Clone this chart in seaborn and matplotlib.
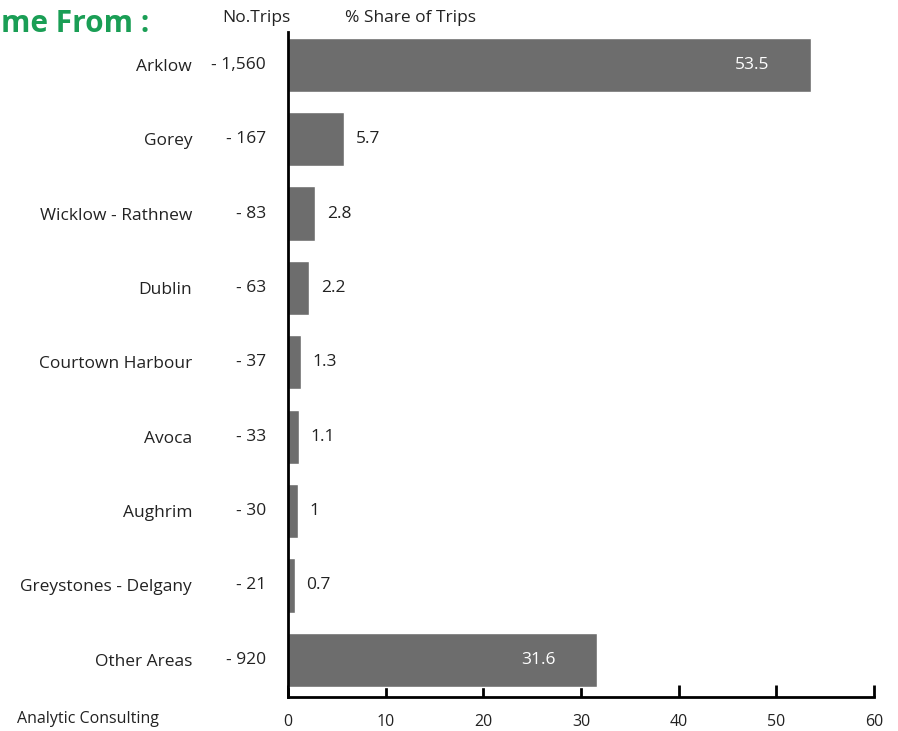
import matplotlib.pyplot as plt
import matplotlib.transforms as mtransforms
import seaborn as sns
import pandas as pd

areas = ['Arklow', 'Gorey', 'Wicklow - Rathnew', 'Dublin', 'Courtown Harbour',
         'Avoca', 'Aughrim', 'Greystones - Delgany', 'Other Areas']
trips = ['1,560', '167', '83', '63', '37', '33', '30', '21', '920']
share = [53.5, 5.7, 2.8, 2.2, 1.3, 1.1, 1.0, 0.7, 31.6]
share_labels = ['53.5', '5.7', '2.8', '2.2', '1.3', '1.1', '1', '0.7', '31.6']

df = pd.DataFrame({'area': areas, 'share': share})

sns.set_style('white')
plt.rcParams['font.family'] = ['Open Sans', 'DejaVu Sans']

fig = plt.figure(figsize=(8.98, 7.31), dpi=100)
ax = fig.add_axes([0.3207, 0.0465, 0.6526, 0.9097])

sns.barplot(data=df, x='share', y='area', orient='h', color='#6d6d6d',
            saturation=1, width=0.73, ax=ax)

ax.set_xlim(0, 60)
ax.set_ylim(8.5, -0.44)
ax.set_xticks([0, 10, 20, 30, 40, 50, 60])
ax.set_xlabel('')
ax.set_ylabel('')
ax.tick_params(axis='x', bottom=True, direction='in', length=9, width=2,
               colors='black', pad=12, labelsize=11.5, labelcolor='#222222')
ax.tick_params(axis='y', left=False, length=0, pad=69, labelsize=12.5)
for lbl in ax.get_yticklabels():
    lbl.set_color('#222222')

for side in ['top', 'right']:
    ax.spines[side].set_visible(False)
for side in ['left', 'bottom']:
    ax.spines[side].set_color('black')
    ax.spines[side].set_linewidth(2)

# value labels: white inside the long bars, dark just past the short ones
for i, (v, s) in enumerate(zip(share, share_labels)):
    if v > 20:
        ax.text(v - 6, i, s, color='white', ha='center', va='center', fontsize=12.5)
    else:
        ax.text(v + 1.2, i, s, color='#222222', ha='left', va='center', fontsize=12.5)

# trip counts column between the names and the axis
trans = mtransforms.blended_transform_factory(fig.transFigure, ax.transData)
for i, t in enumerate(trips):
    ax.text(0.2963, i, '- ' + t, transform=trans, ha='right', va='center',
            fontsize=12.5, color='#222222')

fig.text(0.285, 0.975, 'No.Trips', ha='center', va='center', fontsize=12.5, color='#222222')
fig.text(0.457, 0.975, '% Share of Trips', ha='center', va='center', fontsize=12.5, color='#222222')
fig.text(0.001, 0.967, 'me From :', ha='left', va='center', fontsize=21.5,
         fontweight='bold', color='#1a9e55')
fig.text(0.019, 0.006, 'Analytic Consulting', ha='left', va='bottom', fontsize=11.5,
         color='#222222')

fig.savefig('out.png', dpi=100)
